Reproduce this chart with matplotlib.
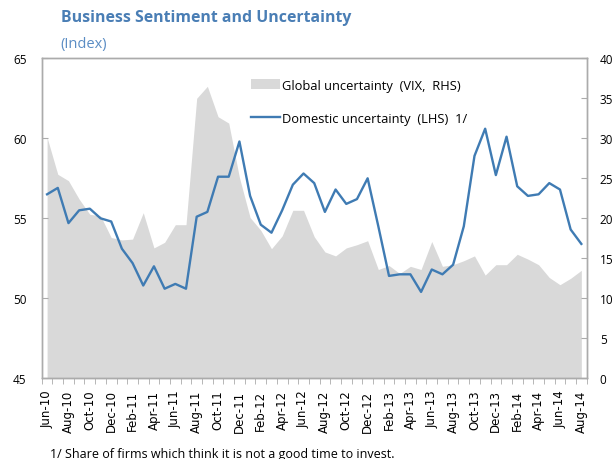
import matplotlib
matplotlib.use('Agg')
import matplotlib.pyplot as plt
import numpy as np
import pandas as pd

# meses Jun-10 .. Aug-14
meses = pd.date_range('2010-06-01', periods=51, freq='MS').strftime('%b-%y').tolist()

# incertidumbre domestica (LHS)
domestica = [56.5, 56.9, 54.7, 55.5, 55.6, 55.0, 54.8, 53.1, 52.2, 50.8,
             52.0, 50.6, 50.9, 50.6, 55.1, 55.4, 57.6, 57.6, 59.8, 56.4,
             54.6, 54.1, 55.5, 57.1, 57.8, 57.2, 55.4, 56.8, 55.9, 56.2,
             57.5, 54.5, 51.4, 51.5, 51.5, 50.4, 51.8, 51.5, 52.1, 54.5,
             58.9, 60.6, 57.7, 60.1, 57.0, 56.4, 56.5, 57.2, 56.8, 54.3,
             53.4]

# VIX (RHS)
vix = [30.1, 25.5, 24.7, 22.4, 20.5, 20.3, 17.6, 17.3, 17.4, 20.7,
       16.3, 17.0, 19.2, 19.2, 35.0, 36.5, 32.7, 31.9, 25.1, 20.1,
       18.5, 16.2, 17.8, 21.0, 21.0, 17.7, 15.8, 15.3, 16.3, 16.7,
       17.2, 13.6, 14.1, 13.1, 14.0, 13.6, 17.1, 14.0, 14.2, 14.7,
       15.3, 12.9, 14.2, 14.2, 15.5, 14.9, 14.2, 12.6, 11.7, 12.5,
       13.5]

azul = '#3f7bb3'
gris = '#d9d9d9'
marco = '#ababab'
plt.rcParams['font.family'] = ['Open Sans', 'DejaVu Sans']

x = np.arange(len(meses))

fig = plt.figure(figsize=(6.14, 4.60), dpi=100)
ax1 = fig.add_axes([0.068, 0.1754, 0.8875, 0.6957])
ax2 = ax1.twinx()

ax2.fill_between(x, 0, vix, color=gris, linewidth=0, label='Global uncertainty  (VIX,  RHS)')
ax1.plot(x, domestica, color=azul, lw=1.7, label='Domestic uncertainty  (LHS)  1/')
ax1.set_zorder(ax2.get_zorder() + 1)
ax1.patch.set_visible(False)

ax1.set_xlim(-0.5, 50.5)
ax1.set_ylim(45, 65)
ax2.set_ylim(0, 40)
ax1.set_yticks(np.arange(45, 66, 5))
ax2.set_yticks(np.arange(0, 41, 5))

ax1.set_xticks(x[::2])
ax1.set_xticklabels(meses[::2], rotation=90, fontsize=8.5, family=['DejaVu Sans'])
ax1.set_xticks(np.arange(-0.5, 51, 1), minor=True)
ax1.tick_params(axis='x', which='major', length=0, pad=8)
ax1.tick_params(axis='x', which='minor', length=4, direction='out', color=marco)
ax1.tick_params(axis='y', direction='in', length=4, color=marco, labelsize=8.5, pad=11)
ax2.tick_params(axis='y', direction='in', length=4, color=marco, labelsize=8.5, pad=9.5)
for ax in (ax1, ax2):
    for s in ax.spines.values():
        s.set_color(marco)
        s.set_linewidth(1)

h2, l2 = ax2.get_legend_handles_labels()
h1, l1 = ax1.get_legend_handles_labels()
ax1.legend(h2 + h1, l2 + l1, loc='upper left', bbox_to_anchor=(0.362, 0.973),
           frameon=False, fontsize=9.3, handlelength=2.25, handleheight=0.85,
           handletextpad=0.15, labelspacing=1.55)

fig.text(0.1, 0.961, 'Business Sentiment and Uncertainty', fontsize=11.4,
         fontweight='bold', color='#4a7eb5', va='center')
fig.text(0.098, 0.904, '(Index)', fontsize=10.5, color='#5b8dc4', va='center')
fig.text(0.081, 0.011, '1/ Share of firms which think it is not a good time to invest.',
         fontsize=9, va='center')

fig.savefig('out.png', dpi=100)
